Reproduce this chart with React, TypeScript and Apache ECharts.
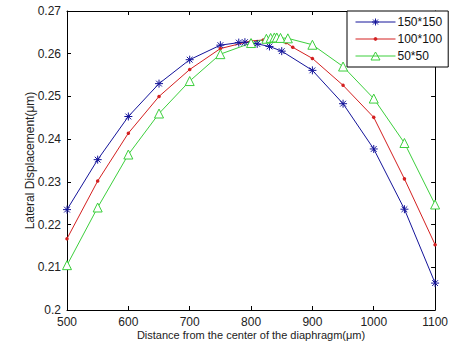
import React, { useEffect, useRef } from "react";
import * as echarts from "echarts";

const xBlue = [500, 550, 600, 650, 700, 750, 780, 790, 810, 830, 850, 900, 950, 1000, 1050, 1100];
const yBlue = [0.2235, 0.2352, 0.2453, 0.253, 0.2586, 0.262, 0.2626, 0.2627, 0.2623, 0.2617, 0.2606, 0.2561, 0.2483, 0.2377, 0.2236, 0.2063];

const xRed = [500, 550, 600, 650, 700, 750, 800, 820, 840, 857, 868, 900, 950, 1000, 1050, 1100];
const yRed = [0.2167, 0.2302, 0.2414, 0.25, 0.2563, 0.2612, 0.263, 0.2632, 0.2632, 0.2626, 0.2615, 0.2589, 0.2526, 0.2451, 0.2307, 0.2153];

const xGreen = [500, 550, 600, 650, 700, 750, 800, 825, 832, 838, 842, 848, 860, 900, 950, 1000, 1050, 1100];
const yGreen = [0.2105, 0.224, 0.2364, 0.246, 0.2536, 0.2599, 0.2625, 0.2635, 0.2637, 0.2638, 0.2638, 0.2637, 0.2636, 0.2621, 0.257, 0.2495, 0.2391, 0.2247];

const seriesNames = ["150*150", "100*100", "50*50"];
const seriesColors = ["#14149a", "#d42020", "#3ccf3c"];
const xTitle = "Distance from the center of the diaphragm(μm)";
const yTitle = "Lateral Displacement(μm)";

const zip = (xs: number[], ys: number[]) => xs.map((x, i) => [x, ys[i]]);

const STAR = "path://M0,-5L0,5M-5,0L5,0M-3.6,-3.6L3.6,3.6M-3.6,3.6L3.6,-3.6";
const LEG_BLUE = "path://M0,4L40,4M20,0.5L20,7.5M16.5,4L23.5,4M17.5,1.5L22.5,6.5M17.5,6.5L22.5,1.5M0,0L0,0M40,8L40,8";
const LEG_RED = "path://M0,4L40,4M18.6,4A1.4,1.4,0,1,1,21.4,4A1.4,1.4,0,1,1,18.6,4ZM0,0L0,0M40,8L40,8";
const LEG_GREEN = "path://M0,4L40,4M20,0L24.5,8L15.5,8Z";

export default function App() {
  const ref = useRef<HTMLDivElement>(null);
  useEffect(() => {
    if (!ref.current) return;
    const chart = echarts.init(ref.current, undefined, { renderer: "svg" });
    const font = "Liberation Sans, Arial, sans-serif";
    const axisLine = { show: true, lineStyle: { color: "#000", width: 1 } };
    const tick = { show: true, inside: true, length: 4, lineStyle: { color: "#000" } };
    chart.setOption({
      animation: false,
      backgroundColor: "#fff",
      grid: { left: 67, right: 14, top: 11, bottom: 33 },
      legend: {
        orient: "vertical",
        left: 347,
        top: 11,
        width: 90,
        padding: [4, 6, 4, 6],
        itemGap: 3,
        itemWidth: 40,
        itemHeight: 8,
        borderColor: "#000",
        borderWidth: 1,
        backgroundColor: "#fff",
        textStyle: { fontFamily: font, fontSize: 12, color: "#111", padding: [0, 0, 0, -3], lineHeight: 14 },
        data: [
          { name: seriesNames[0], icon: LEG_BLUE, itemStyle: { color: "none", borderColor: seriesColors[0], borderWidth: 1 } },
          { name: seriesNames[1], icon: LEG_RED, itemStyle: { color: seriesColors[1], borderColor: seriesColors[1], borderWidth: 1 } },
          { name: seriesNames[2], icon: LEG_GREEN, itemStyle: { color: "none", borderColor: seriesColors[2], borderWidth: 1 } },
        ],
      },
      xAxis: [
        {
          type: "value",
          min: 500,
          max: 1100,
          interval: 100,
          axisLine,
          axisTick: tick,
          splitLine: { show: false },
          axisLabel: { fontFamily: font, fontSize: 12, color: "#222", margin: 6, formatter: (v: number) => String(v) },
          name: xTitle,
          nameLocation: "middle",
          nameGap: 19,
          nameMoveOverlap: false,
          nameTextStyle: { fontFamily: font, fontSize: 11, color: "#222" },
        },
        {
          type: "value",
          position: "top",
          min: 500,
          max: 1100,
          interval: 100,
          axisLine,
          axisTick: tick,
          splitLine: { show: false },
          axisLabel: { show: false },
        },
      ],
      yAxis: [
        {
          type: "value",
          min: 0.2,
          max: 0.27,
          interval: 0.01,
          axisLine,
          axisTick: tick,
          splitLine: { show: false },
          axisLabel: {
            fontFamily: font,
            fontSize: 12,
            color: "#222",
            margin: 6,
            formatter: (v: number) => String(parseFloat(v.toFixed(2))),
          },
          name: yTitle,
          nameLocation: "middle",
          nameGap: 31,
          nameMoveOverlap: false,
          nameTextStyle: { fontFamily: font, fontSize: 12, color: "#222" },
        },
        {
          type: "value",
          position: "right",
          min: 0.2,
          max: 0.27,
          interval: 0.01,
          axisLine,
          axisTick: tick,
          splitLine: { show: false },
          axisLabel: { show: false },
        },
      ],
      series: [
        {
          name: seriesNames[0],
          type: "line",
          data: zip(xBlue, yBlue),
          lineStyle: { color: seriesColors[0], width: 1 },
          symbol: STAR,
          symbolSize: 8,
          itemStyle: { color: "none", borderColor: seriesColors[0], borderWidth: 1 },
        },
        {
          name: seriesNames[1],
          type: "line",
          data: zip(xRed, yRed),
          lineStyle: { color: seriesColors[1], width: 1 },
          symbol: "circle",
          symbolSize: 3.5,
          itemStyle: { color: seriesColors[1], borderWidth: 0 },
        },
        {
          name: seriesNames[2],
          type: "line",
          data: zip(xGreen, yGreen),
          lineStyle: { color: seriesColors[2], width: 1 },
          symbol: "triangle",
          symbolSize: 9,
          itemStyle: { color: "#fff", borderColor: seriesColors[2], borderWidth: 1 },
        },
      ],
    });
    return () => chart.dispose();
  }, []);
  return <div ref={ref} style={{ width: 451, height: 345, position: "absolute", left: 0, top: 0 }} />;
}
